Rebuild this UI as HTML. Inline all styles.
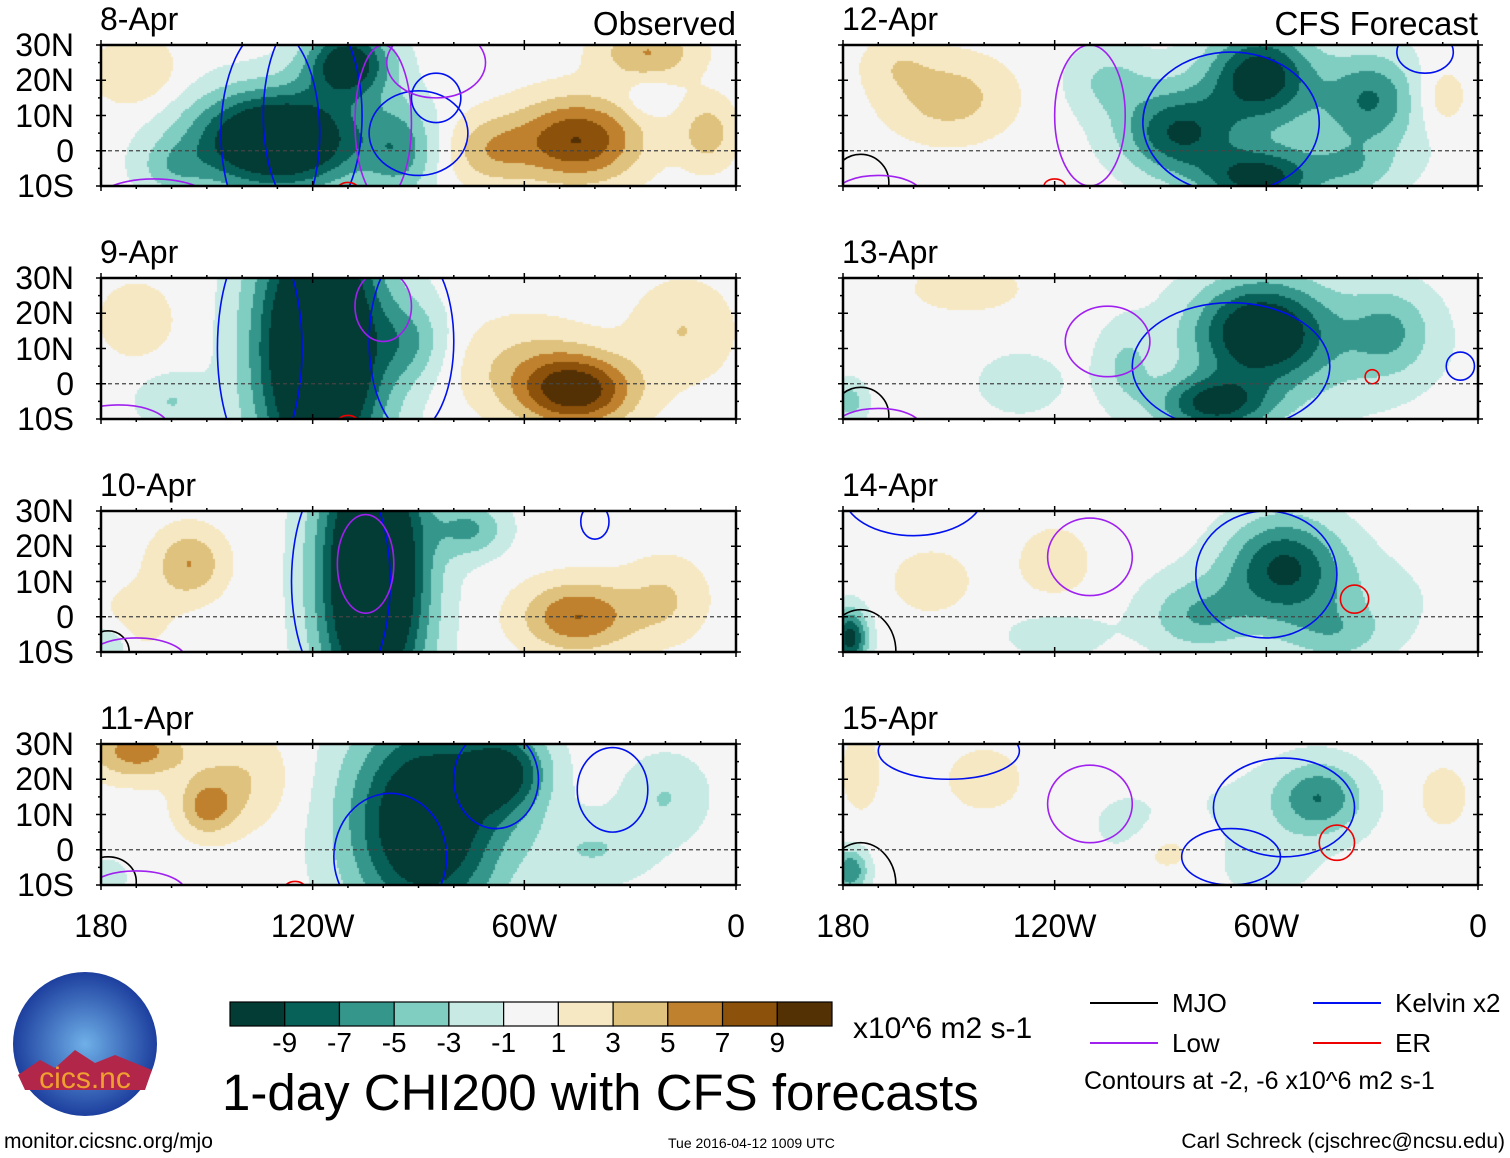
<!DOCTYPE html>
<html><head><meta charset="utf-8">
<style>
body{margin:0;background:#fff;font-family:"Liberation Sans",sans-serif;}
#root{position:relative;width:1510px;height:1158px;overflow:hidden;background:#fff}
.t{position:absolute;color:#000;white-space:nowrap;line-height:1}
canvas{position:absolute}
</style></head><body>
<div id="root">
<svg id="svg" width="1510" height="1158" style="position:absolute;left:0;top:0"></svg>
</div>
<script>
// ---- data ----
const panelDates = ["8-Apr","9-Apr","10-Apr","11-Apr","12-Apr","13-Apr","14-Apr","15-Apr"];
const latTicks = ["30N","20N","10N","0","10S"];
const latValues = [30,20,10,0,-10];
const lonTicks = ["180","120W","60W","0"];
const lonValues = [180,120,60,0];
const levels = [-9,-7,-5,-3,-1,1,3,5,7,9];
const levelColors = ["#033b35","#086159","#35968b","#80cdc1","#c7eae5","#f5f5f5","#f6e8c3","#dfc27d","#bf812d","#8c510a","#543005"];
// blobs per panel: [lonW, lat, amplitude, sigmaLon, sigmaLat]
const blobs8 = [[130,3,-15,24,14],[110,25,-11,12,10],[95,0,-5,10,14],[45,3,9,18,12],[70,0,4,12,10],[25,28,5,14,8],[8,5,4,8,10],[170,22,3,12,10],[25,15,-2,6,5],[160,-5,-3,10,8]];
const blobs9 = [[118,10,-17,18,40],[92,12,-4,10,12],[45,-2,10,16,10],[60,5,3,20,14],[15,15,3,14,14],[170,18,3,10,10],[160,-5,-3,10,8]];
const blobs10 = [[103,12,-17,15,40],[75,25,-5,10,8],[45,0,7,16,10],[20,5,3,12,12],[155,15,5,10,10],[170,0,2,10,10],[178,-8,-3,6,6]];
const blobs11 = [[88,8,-13,22,30],[65,22,-8,12,12],[170,28,6,14,8],[150,12,5,8,8],[140,20,3,14,14],[20,15,-3,12,12],[178,-8,-3,5,5],[40,0,-3,16,10]];
const blobs12 = [[150,15,4,18,12],[85,5,-8,16,12],[62,22,-9,14,12],[62,-8,-9,16,8],[105,20,-3,12,10],[30,15,-5,12,12],[10,15,3,8,10],[35,-5,-3,12,8],[165,25,2,10,8],[50,10,-3,40,20]];
const blobs13 = [[62,15,-10,18,14],[75,-6,-9,16,8],[145,27,3,14,6],[100,5,-3,8,12],[25,15,-4,12,12],[178,-5,-4,5,6],[130,0,-2,14,10],[50,10,-3,35,20]];
const blobs14 = [[55,15,-8,16,14],[80,0,-4,14,10],[178,-6,-10,5,8],[155,10,3,10,8],[120,15,2,12,12],[40,-5,-3,14,8],[120,-5,-2,16,8],[50,5,-2.5,35,15]];
const blobs15 = [[45,15,-6,12,10],[100,5,-2,10,10],[178,-6,-7,5,6],[175,22,3,5,10],[90,0,2,14,8],[60,-5,-2,12,8],[140,20,2,12,10],[10,15,2,8,10],[60,10,-1.5,30,15]];
const allBlobs = [blobs8,blobs9,blobs10,blobs11,blobs12,blobs13,blobs14,blobs15];
// contour ellipses: [type, lonW, lat, rLon, rLat]
const contours8 = [["p",165,-16,18,8],["b",132,5,14,30],["b",120,10,14,30],["p",100,8,8,22],["b",90,5,14,12],["b",85,15,7,7],["p",85,25,14,10],["r",110,-11,3,2]];
const contours9 = [["p",175,-12,14,6],["b",135,10,12,32],["b",92,12,12,26],["p",100,22,8,10],["r",110,-11,3,2]];
const contours10 = [["k",178,-10,6,6],["p",170,-12,14,6],["b",112,10,14,32],["p",105,15,8,14],["b",40,27,4,5]];
const contours11 = [["k",178,-9,8,7],["p",170,-12,14,6],["b",98,-2,16,18],["b",68,20,12,14],["b",35,17,10,12],["r",125,-11,3,2]];
const contours12 = [["k",175,-9,8,8],["p",170,-12,12,5],["b",70,8,25,20],["p",110,10,10,20],["b",15,28,8,6],["r",120,-10,3,2]];
const contours13 = [["k",175,-9,8,8],["p",170,-12,12,5],["b",70,5,28,18],["p",105,12,12,10],["r",30,2,2,2],["b",5,5,4,4]];
const contours14 = [["k",175,-10,10,12],["b",60,12,20,18],["p",110,17,12,11],["r",35,5,4,4],["b",160,35,20,12]];
const contours15 = [["k",175,-10,10,12],["b",55,12,20,14],["p",110,13,12,11],["r",40,2,5,5],["b",150,28,20,8],["b",70,-2,14,8]];
const allContours = [contours8,contours9,contours10,contours11,contours12,contours13,contours14,contours15];
const cbLabels = ["-9","-7","-5","-3","-1","1","3","5","7","9"];

// ---- layout ----
const root = document.getElementById('root');
const svg = document.getElementById('svg');
const NS = "http://www.w3.org/2000/svg";
const PW = 635, PH = 141;
const panelX = [101,843], panelY = [45,278,511,744];
const contourColors = {k:"#000",b:"#0010ee",p:"#a020f0",r:"#ee0000"};

function colorFor(v){let i=0;while(i<levels.length && v>levels[i]) i++;return levelColors[i];}
function mkText(txt,x,y,size,name,anchor){
  const d=document.createElement('div');d.className='t';d.textContent=txt;
  d.style.fontSize=size+'px';d.style.top=y+'px';
  if(anchor==='r'){d.style.right=(1510-x)+'px';}else if(anchor==='c'){d.style.left=x+'px';d.style.transform='translateX(-50%)';}else d.style.left=x+'px';
  
  
  root.appendChild(d);return d;
}
function svgEl(tag,attrs,name){const e=document.createElementNS(NS,tag);for(const k in attrs)e.setAttribute(k,attrs[k]);
  
  
  svg.appendChild(e);return e;}

for(let p=0;p<8;p++){
  const col=p<4?0:1,row=p%4;
  const x0=panelX[col],y0=panelY[row];
  const xs=lon=>x0+(180-lon)/180*PW;
  const ys=lat=>y0+(30-lat)/40*PH;
  const cv=document.createElement('canvas');cv.width=PW;cv.height=PH;
  cv.style.left=x0+'px';cv.style.top=y0+'px';
  
  
  root.insertBefore(cv,svg);
  const ctx=cv.getContext('2d');const S=2;
  for(let py=0;py<PH;py+=S)for(let px=0;px<PW;px+=S){
    const lon=180-(px+S/2)/PW*180,lat=30-(py+S/2)/PH*40;let v=0;
    for(const b of allBlobs[p]){const dx=(lon-b[0])/b[3],dy=(lat-b[1])/b[4];v+=b[2]*Math.exp(-(dx*dx+dy*dy));}
    ctx.fillStyle=colorFor(v);ctx.fillRect(px,py,S,S);
  }
  const cp=document.createElementNS(NS,'clipPath');cp.setAttribute('id','clip'+p);
  const cr=document.createElementNS(NS,'rect');cr.setAttribute('x',x0);cr.setAttribute('y',y0);cr.setAttribute('width',PW);cr.setAttribute('height',PH);cp.appendChild(cr);svg.appendChild(cp);
  for(const c of allContours[p]){
    svgEl('ellipse',{cx:xs(c[1]),cy:ys(c[2]),rx:c[3]/180*PW,ry:c[4]/40*PH,fill:'none',stroke:contourColors[c[0]],'stroke-width':1.6,'clip-path':'url(#clip'+p+')'},'contour-'+c[0]);
  }
  svgEl('line',{x1:x0,x2:x0+PW,y1:ys(0),y2:ys(0),stroke:'#444','stroke-width':1.3,'stroke-dasharray':'4,3'},'equator-line');
  svgEl('rect',{x:x0,y:y0,width:PW,height:PH,fill:'none',stroke:'#000','stroke-width':2.5},'panel-frame');
  for(let l=180;l>=0;l-=10){const x=xs(l);const big=l%60===0;
    svgEl('line',{x1:x,x2:x,y1:y0-(big?5:3),y2:y0+(big?5:0),stroke:'#000','stroke-width':1.5},'lon-tick');
    svgEl('line',{x1:x,x2:x,y1:y0+PH-(big?5:0),y2:y0+PH+(big?5:3),stroke:'#000','stroke-width':1.5},'lon-tick');}
  for(let la=-10;la<=30;la+=5){const y=ys(la);const big=la%10===0;
    svgEl('line',{x1:x0-(big?5:3),x2:x0+(big?5:0),y1:y,y2:y,stroke:'#000','stroke-width':1.5},'lat-tick');
    svgEl('line',{x1:x0+PW-(big?5:0),x2:x0+PW+(big?5:3),y1:y,y2:y,stroke:'#000','stroke-width':1.5},'lat-tick');}
  mkText(panelDates[p],x0-1,y0-42,32,'panel-title-'+panelDates[p]);
  if(col===0) latTicks.forEach((t,i)=>mkText(t,74,ys(latValues[i])-16,32,'lat-label','r'));
  if(row===3) lonTicks.forEach((t,i)=>mkText(t,xs(lonValues[i]),y0+PH+25,32,'lon-label','c'));
}
mkText("Observed",736,7,33,'observed-label','r');
mkText("CFS Forecast",1478,7,33,'cfs-forecast-label','r');

const cbX=230,cbY=1002,cbW=602/11;
levelColors.forEach((c,i)=>svgEl('rect',{x:cbX+i*cbW,y:cbY,width:cbW,height:24,fill:c,stroke:'#000','stroke-width':1.2},'colorbar-box'));
cbLabels.forEach((t,i)=>mkText(t,cbX+(i+1)*cbW,1029,28,'colorbar-label','c'));
mkText("x10^6 m2 s-1",853,1014,30,'colorbar-units');
mkText("1-day CHI200 with CFS forecasts",222,1067,51,'main-title');
const leg=[["k",1090,1003,"MJO"],["b",1313,1003,"Kelvin x2"],["p",1090,1043,"Low"],["r",1313,1043,"ER"]];
leg.forEach(l=>{svgEl('line',{x1:l[1],x2:l[1]+68,y1:l[2],y2:l[2],stroke:contourColors[l[0]],'stroke-width':2},'legend-line-'+l[3]);
  mkText(l[3],l[1]+82,l[2]-13,26,'legend-label-'+l[3]);});
mkText("Contours at -2, -6 x10^6 m2 s-1",1084,1069,25,'contour-note');
mkText("monitor.cicsnc.org/mjo",4,1131,21,'url-label');
mkText("Tue 2016-04-12 1009 UTC",668,1136,14,'timestamp');
mkText("Carl Schreck (cjschrec@ncsu.edu)",1505,1131,21,'author-label','r');
const g=document.createElementNS(NS,'radialGradient');g.setAttribute('id','lg');
g.innerHTML='<stop offset="0" stop-color="#6fb0e8"/><stop offset="1" stop-color="#1d3f9e"/>';svg.appendChild(g);
svgEl('circle',{cx:85,cy:1044,r:72,fill:'url(#lg)'},'cics-logo');
svgEl('path',{d:'M18 1075 L40 1060 L55 1068 L75 1050 L95 1063 L115 1055 L152 1070 L145 1090 L25 1090Z',fill:'#b2264a'},'logo-mountains');
mkText("cics.nc",85,1064,30,'logo-text','c').style.color='#f0a030';
</script>
</body></html>
